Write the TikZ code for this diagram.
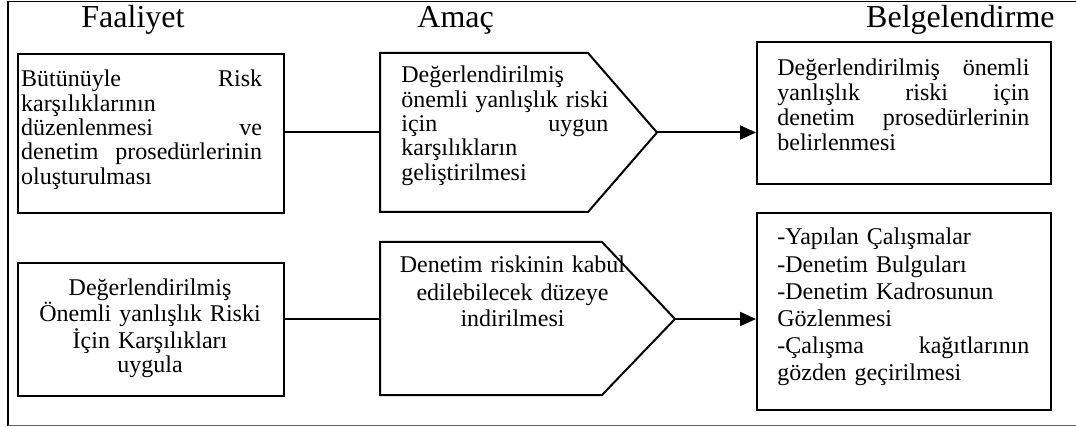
\documentclass[tikz,border=0pt]{standalone}
\usepackage{fontspec}
\setmainfont{Liberation Serif}
\usetikzlibrary{arrows.meta}
\begin{document}
\begin{tikzpicture}[x=0.5pt,y=-0.5pt,
  frame/.style={line width=0.75pt},
  boxline/.style={draw, line width=1pt},
  rbox/.style={boxline, inner sep=0pt, anchor=north west},
  txt/.style={inner sep=0pt, font=\fontsize{12}{12.15}\selectfont},
  head/.style={inner sep=0pt, font=\fontsize{16}{19}\selectfont},
  conn/.style={line width=1pt},
  arr/.style={line width=1pt, -{Triangle[length=8pt,width=7pt]}}]
\useasboundingbox (0,0) rectangle (1076,427);
% outer frame
\coordinate (ftl) at (8,1.5);
\coordinate (ftr) at (1076,1.5);
\coordinate (fbl) at (8,425.5);
\coordinate (fbr) at (1076,425.5);
\draw[frame] (ftr) -- (ftl) -- (fbl);
\draw[line width=0.6pt, black!60] (fbl) -- (fbr);
% headers
\node[head, anchor=base west] (h1) at (81,28) {Faaliyet};
\node[head, anchor=base west] (h2) at (417,28) {Amaç};
\node[head, anchor=base east] (h3) at (1055,28) {Belgelendirme};
% boxes
\node[rbox, minimum width=133pt, minimum height=79.5pt] (b1) at (17,53) {};
\node[rbox, minimum width=133pt, minimum height=66.5pt] (b2) at (17,262) {};
\node[rbox, minimum width=147pt, minimum height=71pt] (b3) at (756,41) {};
\node[rbox, minimum width=147pt, minimum height=98.5pt] (b4) at (756,212) {};
% pentagons
\coordinate (p1w) at (380,132.5);
\coordinate (p1e) at (657,132.5);
\draw[boxline] (380,53) -- (588,53) -- (p1e) -- (588,212) -- (380,212) -- cycle;
\coordinate (p2w) at (380,319);
\coordinate (p2e) at (675,319);
\draw[boxline] (380,242) -- (602,242) -- (p2e) -- (602,395) -- (380,395) -- cycle;
% connectors
\draw[conn] (b1.east |- p1w) -- (p1w);
\draw[arr] (p1e) -- (b3.west |- p1e);
\draw[conn] (b2.east |- p2w) -- (p2w);
\draw[arr] (p2e) -- (b4.west |- p2e);
% texts
\node[txt, anchor=base west, text width=120.5pt, align=left] (t1) at (20.7,87)
  {Bütünüyle\hfill Risk\\ karşılıklarının\\ düzenlenmesi\hfill ve\\ denetim\hfill prosedürlerinin\\ oluşturulması};
\node[txt, anchor=base west, text width=103.5pt, align=left] (t2) at (401,83)
  {Değerlendirilmiş\\ önemli\hfill yanlışlık\hfill riski\\ için\hfill uygun\\ karşılıkların\\ geliştirilmesi};
\node[txt, anchor=base west, text width=126pt, align=left, font=\fontsize{12}{12.35}\selectfont] (t3) at (777,76)
  {Değerlendirilmiş\hfill önemli\\ yanlışlık\hfill riski\hfill için\\ denetim\hfill prosedürlerinin\\ belirlenmesi};
\node[txt, anchor=base, text width=130pt, align=center] (t4) at (150,295)
  {Değerlendirilmiş\\ Önemli yanlışlık Riski\\ İçin Karşılıkları\\ uygula};
\node[txt, anchor=base, text width=125pt, align=center, font=\fontsize{12}{13.5}\selectfont] (t5) at (512.5,273)
  {Denetim riskinin kabul\\ edilebilecek düzeye\\ indirilmesi};
\node[txt, anchor=base west, text width=126pt, align=left, font=\fontsize{12}{13.6}\selectfont] (t6) at (777,245)
  {-Yapılan Çalışmalar\\ -Denetim Bulguları\\ -Denetim Kadrosunun\\ Gözlenmesi\\ -Çalışma\hfill kağıtlarının\\ gözden geçirilmesi};
\end{tikzpicture}
\end{document}
